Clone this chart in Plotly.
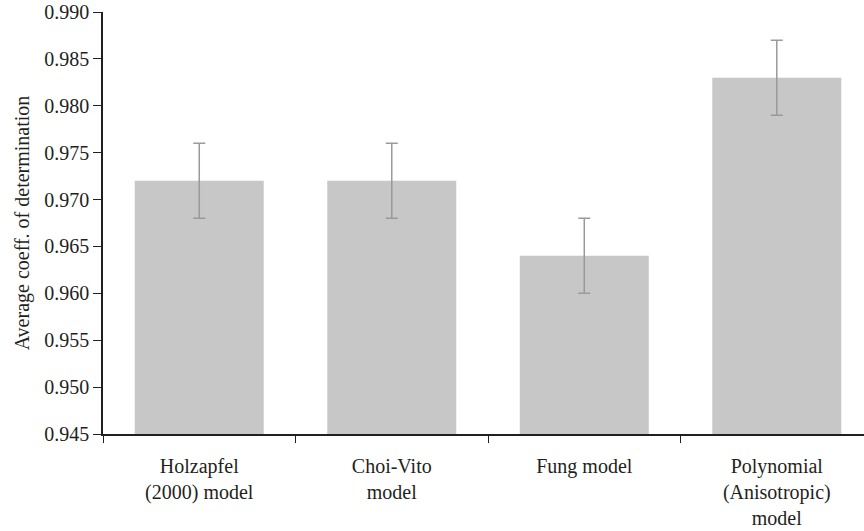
import plotly.graph_objects as go

categories = ["Holzapfel<br>(2000) model", "Choi-Vito<br>model", "Fung model", "Polynomial<br>(Anisotropic)<br>model"]
values = [0.972, 0.972, 0.964, 0.983]
errors = [0.004, 0.004, 0.004, 0.004]
y_title = "Average coeff. of determination"

FONT = "Liberation Serif"
fig = go.Figure(go.Bar(
    x=categories, y=values,
    marker=dict(color="#c6c7c6", line=dict(width=0)),
    width=0.67,
    error_y=dict(type="data", array=errors, color="#9a9a9a", thickness=1.5, width=6),
))
fig.update_layout(
    width=864, height=531,
    margin=dict(l=103, r=0, t=12, b=97),
    plot_bgcolor="white", paper_bgcolor="white",
    font=dict(family=FONT, size=20, color="#231f20"),
    showlegend=False,
)
fig.update_xaxes(
    type="category", range=[-0.5, 3.453], automargin=False,
    showline=True, linecolor="#231f20", linewidth=1.5,
    ticks="outside", tickson="boundaries", ticklen=7, tickcolor="#231f20",
    tickfont=dict(size=20), showgrid=False, ticklabelstandoff=13,
    ticklabeloverflow="allow",
)
fig.update_yaxes(
    range=[0.945, 0.990], dtick=0.005, tickformat=".3f", automargin=False,
    showline=True, linecolor="#231f20", linewidth=1.5,
    ticks="outside", ticklen=8, tickcolor="#231f20",
    tickfont=dict(size=20), showgrid=False, zeroline=False,
    ticklabeloverflow="allow",
    title=dict(text=y_title, font=dict(size=20), standoff=9),
)
fig.write_html(
    "out.html",
    config={"displayModeBar": False},
    post_script="document.body.style.margin='0';document.body.style.overflow='hidden';",
)
